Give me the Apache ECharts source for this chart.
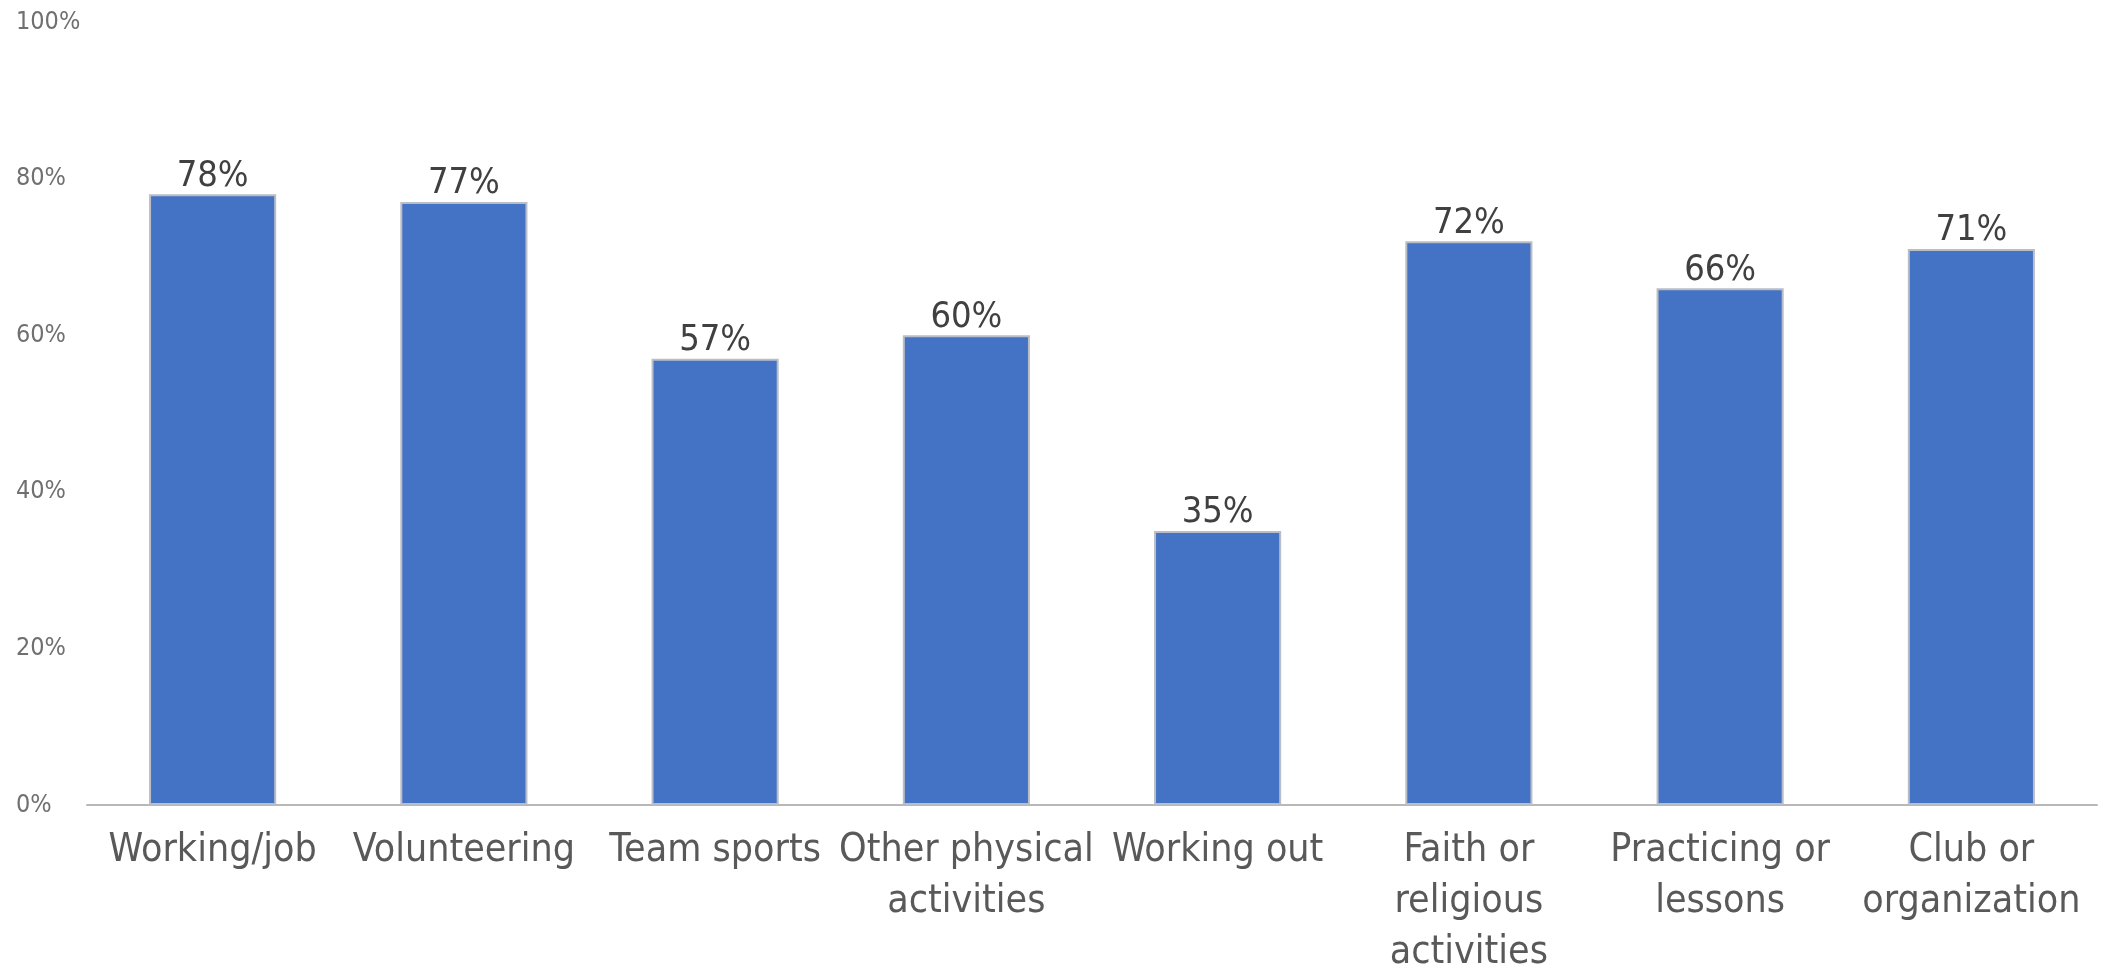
<!DOCTYPE html>
<html>
<head>
<meta charset="utf-8">
<script src="https://cdn.jsdelivr.net/npm/echarts@6/dist/echarts.min.js"></script>
<style>
  html, body { margin: 0; padding: 0; background: #ffffff; }
  #chart { width: 2103px; height: 969px; }
</style>
</head>
<body>
<div id="chart"></div>
<script>
const categories = [
  "Working/job",
  "Volunteering",
  "Team sports",
  "Other physical\nactivities",
  "Working out",
  "Faith or\nreligious\nactivities",
  "Practicing or\nlessons",
  "Club or\norganization"
];
const values = [78, 77, 57, 60, 35, 72, 66, 71];
const yTicks = [0, 20, 40, 60, 80, 100];

const FONT = "'Liberation Sans Narrow', 'DejaVu Sans Condensed', 'Liberation Sans', sans-serif";

const chart = echarts.init(document.getElementById('chart'), null, { renderer: 'canvas' });
chart.setOption({
  animation: false,
  backgroundColor: '#ffffff',
  grid: { left: 87, right: 6, top: 22, bottom: 164, containLabel: false, outerBoundsMode: 'none' },
  xAxis: {
    type: 'category',
    data: categories,
    axisLine: { show: true, lineStyle: { color: '#b8b8b8', width: 2 } },
    axisTick: { show: false },
    axisLabel: {
      interval: 0,
      color: '#595959',
      fontFamily: FONT,
      fontSize: 39,
      lineHeight: 51,
      margin: 20
    }
  },
  yAxis: {
    type: 'value',
    min: yTicks[0],
    max: yTicks[yTicks.length - 1],
    interval: 20,
    axisLine: { show: false },
    axisTick: { show: false },
    splitLine: { show: false },
    axisLabel: {
      formatter: '{value}%',
      color: '#707070',
      fontFamily: FONT,
      fontSize: 25,
      align: 'left',
      margin: 71
    }
  },
  series: [{
    type: 'bar',
    data: values,
    barWidth: '50.6%',
    itemStyle: { color: '#4472C4', borderColor: '#b9bec6', borderWidth: 2 },
    label: {
      show: true,
      position: 'top',
      distance: 0,
      formatter: '{c}%',
      color: '#404040',
      fontFamily: FONT,
      fontSize: 36
    }
  }]
});
</script>
</body>
</html>
